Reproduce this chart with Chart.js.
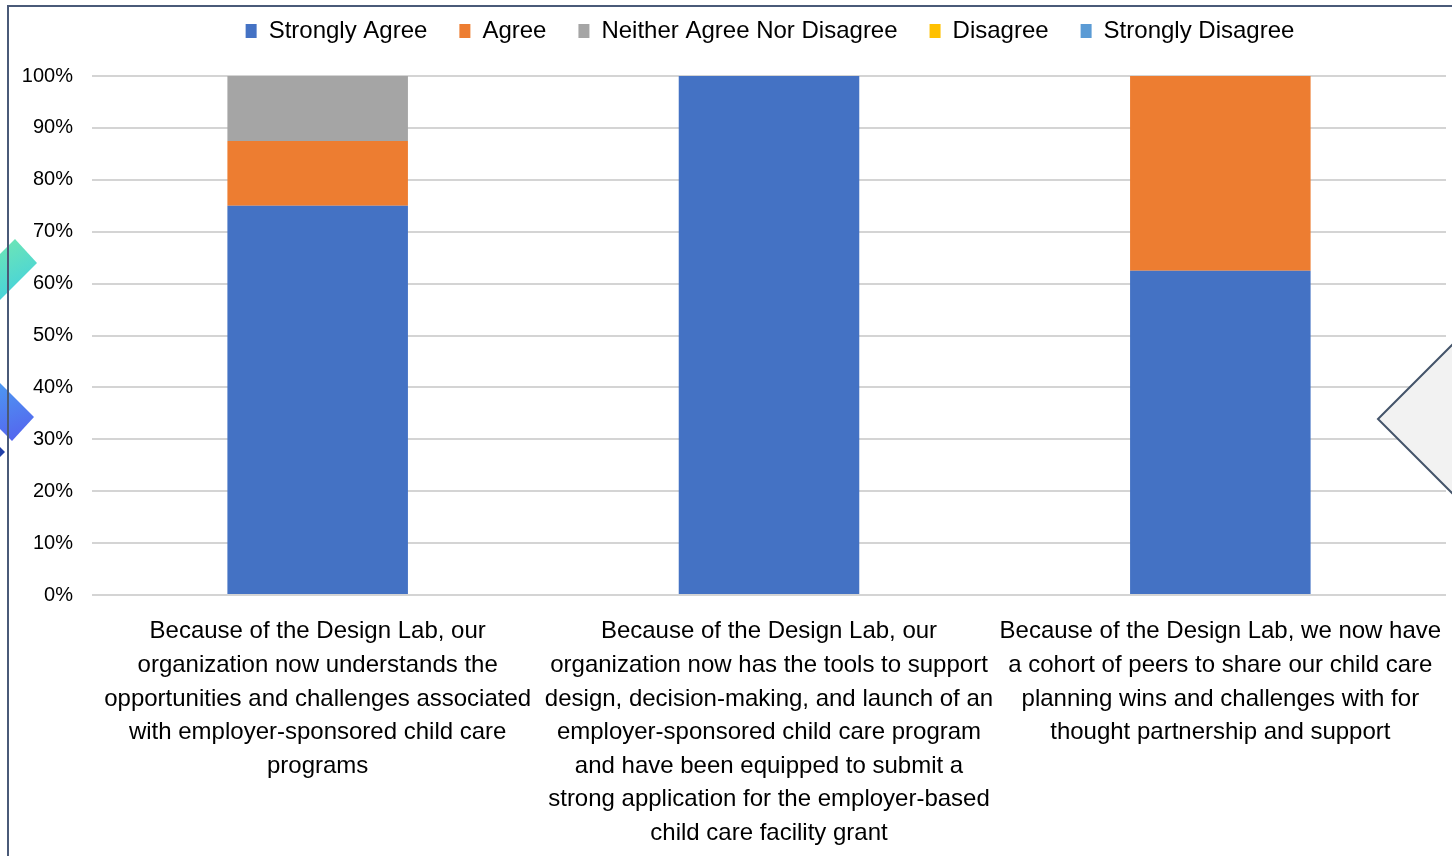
<!DOCTYPE html>
<html>
<head>
<meta charset="utf-8">
<script src="https://cdn.jsdelivr.net/npm/chart.js@4"></script>
<style>
    html, body { margin: 0; padding: 0; background: #fff; overflow: hidden; }
    #wrap { position: absolute; left: 0; top: 0; width: 1518px; height: 856px; }
</style>
</head>
<body>
<div id="wrap"><canvas id="surveyChart"></canvas></div>
<script>
const categories = [
    ['Because of the Design Lab, our', 'organization now understands the', 'opportunities and challenges associated', 'with employer-sponsored child care', 'programs'],
    ['Because of the Design Lab, our', 'organization now has the tools to support', 'design, decision-making, and launch of an', 'employer-sponsored child care program', 'and have been equipped to submit a', 'strong application for the employer-based', 'child care facility grant'],
    ['Because of the Design Lab, we now have', 'a cohort of peers to share our child care', 'planning wins and challenges with for', 'thought partnership and support']
];
const seriesNames = ['Strongly Agree', 'Agree', 'Neither Agree Nor Disagree', 'Disagree', 'Strongly Disagree'];
const stronglyAgree = [75, 100, 62.5];
const agree = [12.5, 0, 37.5];
const neither = [12.5, 0, 0];
const disagree = [0, 0, 0];
const stronglyDisagree = [0, 0, 0];
const seriesColors = ['#4472C4', '#ED7D31', '#A5A5A5', '#FFC000', '#5B9BD5'];
const yTicks = [0, 10, 20, 30, 40, 50, 60, 70, 80, 90, 100];

const FONT = '"Liberation Sans", Arial, sans-serif';

// slide decorations around the chart (diamonds + frame)
const decor = {
    id: 'decor',
    beforeLayout(chart) {
        // extra room under the legend row
        const lg = chart.legend;
        if (lg && !lg._extraRoom) {
            const fit = lg.fit;
            lg.fit = function () { fit.call(this); this.height += 23; };
            lg._extraRoom = true;
        }
    },
    beforeDraw(chart) {
        const ctx = chart.ctx;
        ctx.save();
        ctx.fillStyle = '#fff';
        ctx.fillRect(0, 0, chart.width, chart.height);

        let g = ctx.createLinearGradient(0, 240, 30, 300);
        g.addColorStop(0, '#6FE6B4');
        g.addColorStop(1, '#3FCFE2');
        ctx.fillStyle = g;
        ctx.beginPath();
        ctx.moveTo(15, 239);
        ctx.lineTo(37, 263);
        ctx.lineTo(-63, 363);
        ctx.lineTo(-85, 339);
        ctx.closePath();
        ctx.fill();

        g = ctx.createLinearGradient(0, 375, 25, 440);
        g.addColorStop(0, '#4C9EF2');
        g.addColorStop(1, '#5563EE');
        ctx.fillStyle = g;
        ctx.beginPath();
        ctx.moveTo(34, 417);
        ctx.lineTo(12, 441);
        ctx.lineTo(-88, 341);
        ctx.lineTo(-66, 317);
        ctx.closePath();
        ctx.fill();

        ctx.fillStyle = '#2140A8';
        ctx.beginPath();
        ctx.moveTo(5, 452);
        ctx.lineTo(-6, 441);
        ctx.lineTo(-6, 463);
        ctx.closePath();
        ctx.fill();
        ctx.restore();
    },
    afterDraw(chart) {
        const ctx = chart.ctx;
        ctx.save();
        ctx.fillStyle = '#F2F2F2';
        ctx.strokeStyle = '#44546A';
        ctx.lineWidth = 2;
        ctx.beginPath();
        ctx.moveTo(1378, 419);
        ctx.lineTo(1478, 319);
        ctx.lineTo(1478, 519);
        ctx.closePath();
        ctx.fill();
        ctx.stroke();

        ctx.strokeStyle = '#4A5A78';
        ctx.lineWidth = 2;
        ctx.beginPath();
        ctx.moveTo(8, 860);
        ctx.lineTo(8, 6);
        ctx.lineTo(1520, 6);
        ctx.stroke();
        ctx.restore();
    }
};

const datasetValues = [stronglyAgree, agree, neither, disagree, stronglyDisagree];
const datasets = seriesNames.map((name, i) => ({
    label: name,
    data: datasetValues[i],
    backgroundColor: seriesColors[i],
    borderWidth: 0,
    barPercentage: 0.4,
    categoryPercentage: 1
}));

const ctx = document.getElementById('surveyChart').getContext('2d');
new Chart(ctx, {
    type: 'bar',
    data: {
        labels: categories,
        datasets: datasets
    },
    options: {
        responsive: true,
        maintainAspectRatio: false,
        animation: false,
        layout: { padding: { left: 22, right: 0, top: -13, bottom: 0 } },
        plugins: {
            legend: {
                position: 'top',
                labels: {
                    boxWidth: 11,
                    boxHeight: 14,
                    padding: 32,
                    color: '#000',
                    font: { family: FONT, size: 24 }
                }
            },
            tooltip: { enabled: false }
        },
        scales: {
            x: {
                stacked: true,
                grid: { display: false },
                border: { display: false },
                ticks: {
                    color: '#000',
                    padding: 12,
                    maxRotation: 0,
                    autoSkip: false,
                    font: { family: FONT, size: 24, lineHeight: 1.4 }
                },
                afterFit(scale) { scale.height = 261; }
            },
            y: {
                stacked: true,
                min: 0,
                max: 100,
                afterBuildTicks(scale) { scale.ticks = yTicks.map(v => ({ value: v })); },
                grid: { color: '#D4D4D4', lineWidth: 2, drawTicks: false },
                border: { display: false },
                ticks: {
                    color: '#000',
                    padding: 19,
                    font: { family: FONT, size: 20 },
                    callback: v => v + '%'
                },
                afterFit(scale) { scale.width = 70; }
            },
            y2: {
                position: 'right',
                display: true,
                grid: { display: false },
                border: { display: false },
                ticks: { display: false },
                afterFit(scale) { scale.width = 72; }
            }
        }
    },
    plugins: [decor]
});
</script>
</body>
</html>
